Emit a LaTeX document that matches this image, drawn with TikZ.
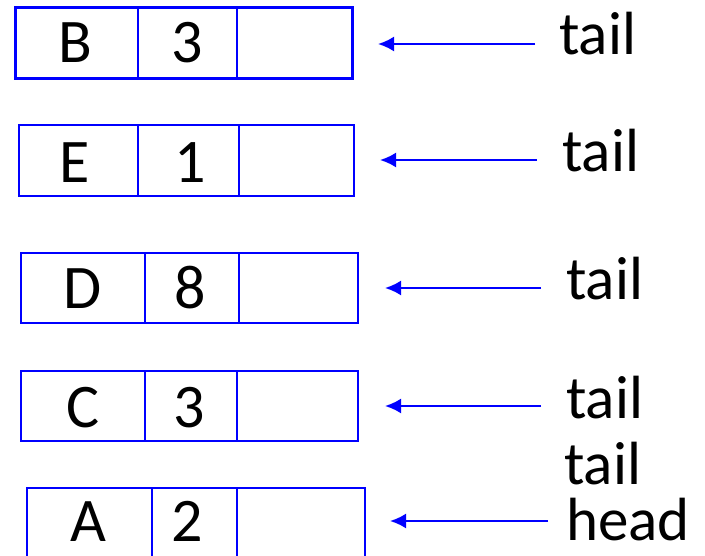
\documentclass[tikz,border=0pt]{standalone}
\usepackage{fontspec}
\setmainfont{Carlito}
\usetikzlibrary{arrows.meta}
\definecolor{lblue}{RGB}{0,0,255}
\tikzset{
  cell/.style={draw=lblue, line width=2pt},
  txt/.style={anchor=base, inner sep=0pt, font=\fontsize{62}{62}\selectfont},
  lbl/.style={anchor=base west, inner sep=0pt, font=\fontsize{61}{61}\selectfont},
  ptr/.style={draw=lblue, line width=2.2pt, -{Latex[length=16pt,width=15pt]}},
}
\begin{document}
\begin{tikzpicture}[x=1pt,y=-1pt]
\useasboundingbox (0,0) rectangle (705,556);
% row 1
\draw[cell, line width=3pt] (15,8) rectangle (352,79);
\draw[cell] (138,8) -- (138,79) (237,8) -- (237,79);
\node[txt] (b1) at (75,63) {B};
\node[txt] (n1) at (187,63) {3};
\node[lbl] (t1) at (559,55) {tail};
\coordinate (s1) at (535,44); \coordinate (e1) at (378,44);
\draw[ptr] (s1) -- (e1);
% row 2
\draw[cell] (19,125) rectangle (354,196);
\draw[cell] (138,125) -- (138,196) (239,125) -- (239,196);
\node[txt] (b2) at (75,183) {E};
\node[txt] (n2) at (190,183) {1};
\node[lbl] (t2) at (562,172) {tail};
\coordinate (s2) at (537,160); \coordinate (e2) at (380,160);
\draw[ptr] (s2) -- (e2);
% row 3
\draw[cell] (21,253) rectangle (358,323);
\draw[cell] (145,253) -- (145,323) (239,253) -- (239,323);
\node[txt] (b3) at (83,309) {D};
\node[txt] (n3) at (190,309) {8};
\node[lbl] (t3) at (566,300) {tail};
\coordinate (s3) at (541,288); \coordinate (e3) at (385,288);
\draw[ptr] (s3) -- (e3);
% row 4
\draw[cell] (21,371) rectangle (358,441);
\draw[cell] (145,371) -- (145,441) (237,371) -- (237,441);
\node[txt] (b4) at (83,428) {C};
\node[txt] (n4) at (189,428) {3};
\node[lbl] (t4) at (566,418) {tail};
\coordinate (s4) at (541,406); \coordinate (e4) at (385,406);
\draw[ptr] (s4) -- (e4);
% row 5
\draw[cell] (27,488) rectangle (365,562);
\draw[cell] (152,488) -- (152,562) (237,488) -- (237,562);
\node[txt] (b5) at (88,541) {A};
\node[txt] (n5) at (187,541) {2};
\node[lbl] (t5) at (564,484) {tail};
\node[lbl] (h5) at (566,540) {head};
\coordinate (s5) at (548,521); \coordinate (e5) at (390,521);
\draw[ptr] (s5) -- (e5);
\end{tikzpicture}
\end{document}
